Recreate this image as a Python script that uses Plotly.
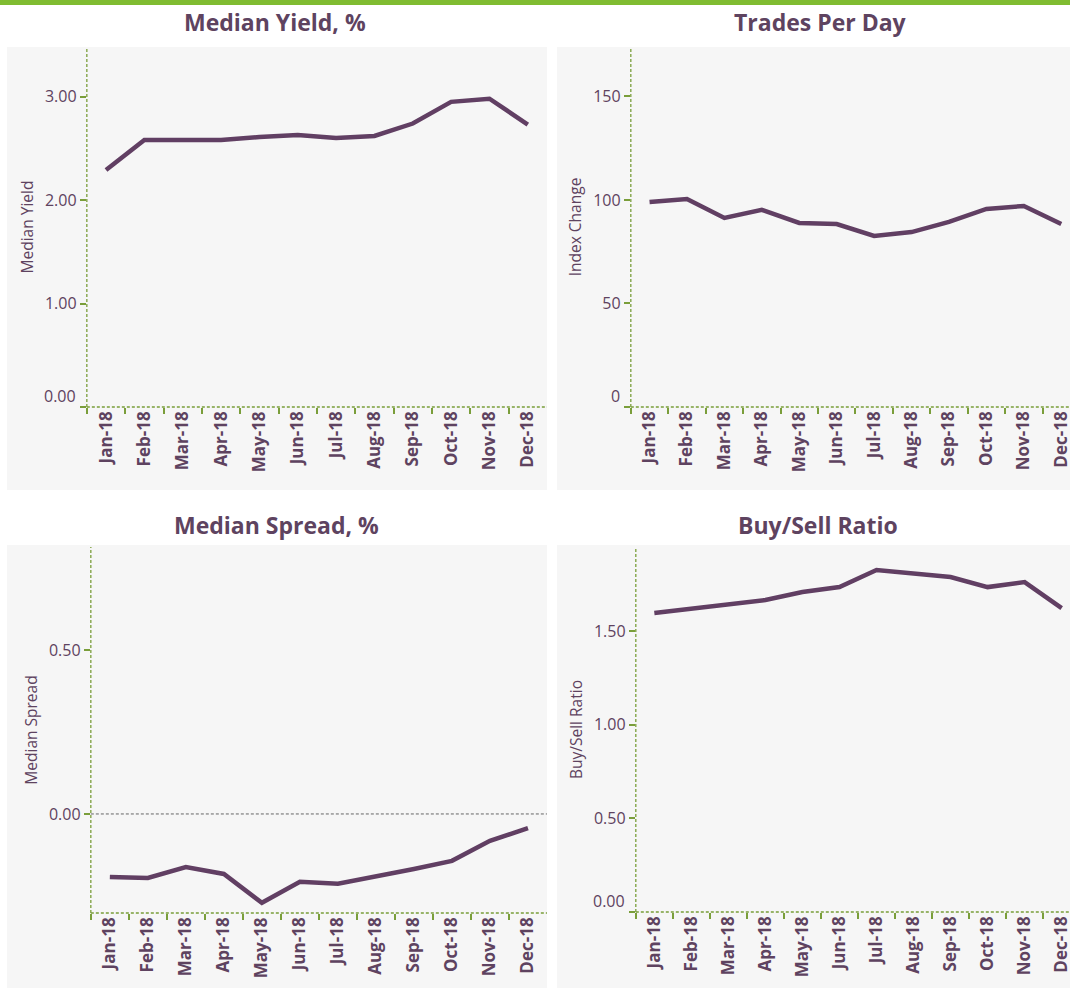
import plotly.graph_objects as go

months = ["Jan-18", "Feb-18", "Mar-18", "Apr-18", "May-18", "Jun-18",
          "Jul-18", "Aug-18", "Sep-18", "Oct-18", "Nov-18", "Dec-18"]
median_yield = [2.29, 2.58, 2.58, 2.58, 2.61, 2.63, 2.60, 2.62, 2.74, 2.95, 2.98, 2.73]
trades_per_day = [99.0, 100.5, 91.3, 95.2, 88.9, 88.4, 82.6, 84.5, 89.4, 95.7, 97.1, 88.4]
median_spread = [-0.192, -0.195, -0.162, -0.183, -0.271, -0.207, -0.213, -0.192, -0.168, -0.143, -0.082, -0.043]
buy_sell = [1.596, 1.617, 1.638, 1.665, 1.708, 1.734, 1.825, 1.809, 1.788, 1.734, 1.761, 1.622]

titles = ["Median Yield, %", "Trades Per Day", "Median Spread, %", "Buy/Sell Ratio"]
ytitles = ["Median Yield", "Index Change", "Median Spread", "Buy/Sell Ratio"]
yticks = [[0, 1, 2, 3], [0, 50, 100, 150], [0, 0.5], [0, 0.5, 1.0, 1.5]]
yticktext = [["", "1.00", "2.00", "3.00"], ["", "50", "100", "150"],
             ["0.00", "0.50"], ["", "0.50", "1.00", "1.50"]]
bottom_labels = ["0.00", "0", None, "0.00"]

W, H = 1072, 990
PURPLE = "#613f63"
TXT = "#5e4360"
GREEN = "#7a9e3a"
GREY = "#f6f6f6"
FONT = "Open Sans"

def px(x):
    return x / W

def py(y):
    return 1 - y / H

# plot-area geometry (pixels)
areas = [(87, 548, 47, 407), (632, 1072, 47, 407), (91, 548, 547, 913), (637, 1072, 547, 912)]
boxes = [(7, 548, 47, 490), (558, 1072, 47, 490), (7, 548, 545, 988), (558, 1072, 545, 988)]
title_pos = [(276, 22), (822, 22), (277, 525), (820, 525)]
yranges = [[0, 3.48], [0, 173.9], [-0.302, 0.814], [0, 1.948]]
band_w = [(548 - 87) / 12, 37.5, (548 - 91) / 12, 37.1]
series = [median_yield, trades_per_day, median_spread, buy_sell]

fig = go.Figure()
shapes = []
annotations = []

# top green bar
shapes.append(dict(type="rect", xref="paper", yref="paper", x0=0, x1=1,
                   y0=py(5), y1=1, fillcolor="#80bc31", line_width=0, layer="below"))

for i in range(4):
    n = "" if i == 0 else str(i + 1)
    xa, ya = "x" + n, "y" + n
    x0, x1, y0, y1 = areas[i]
    bx0, bx1, by0, by1 = boxes[i]
    shapes.append(dict(type="rect", xref="paper", yref="paper", x0=px(bx0), x1=px(bx1),
                       y0=py(by1), y1=py(by0), fillcolor=GREY, line_width=0, layer="below"))
    fig.add_trace(go.Scatter(x=months, y=series[i], mode="lines",
                             line=dict(color=PURPLE, width=4.5),
                             xaxis=xa, yaxis=ya, showlegend=False, hoverinfo="x+y"))
    xmax = (x1 - x0) / band_w[i] - 0.5
    fig.layout["xaxis" + n] = dict(
        domain=[px(x0), px(x1)], anchor=ya, type="category",
        categoryorder="array", categoryarray=months,
        range=[-0.5, xmax], tickson="boundaries", ticks="outside", ticklen=6,
        tickcolor=GREEN, tickwidth=1.5, tickangle=-90, showgrid=False, zeroline=False,
        showline=False, tickfont=dict(family=FONT, size=17, color=TXT, weight="bold"),
        fixedrange=True)
    fig.layout["yaxis" + n] = dict(
        domain=[py(y1), py(y0)], anchor=xa, range=yranges[i],
        tickvals=yticks[i], ticktext=yticktext[i], ticks="outside", ticklen=6,
        tickcolor=GREEN, tickwidth=1.5, showgrid=False, zeroline=False, showline=False,
        tickfont=dict(family=FONT, size=16, color=TXT),
        title=dict(text=ytitles[i], font=dict(family=FONT, size=15.5, color=TXT), standoff=7),
        fixedrange=True)
    # dashed axis lines
    shapes.append(dict(type="line", xref=xa + " domain", yref=ya + " domain",
                       x0=0, x1=0, y0=0, y1=1, line=dict(color=GREEN, width=1.3, dash="3px,2px")))
    shapes.append(dict(type="line", xref=xa + " domain", yref=ya + " domain",
                       x0=0, x1=1, y0=0, y1=0, line=dict(color=GREEN, width=1.3, dash="3px,2px")))
    if bottom_labels[i] is not None:
        annotations.append(dict(text=bottom_labels[i], xref=xa + " domain", yref=ya,
                                x=0, y=0, xanchor="right", yanchor="middle", xshift=-9, yshift=11,
                                showarrow=False, font=dict(family=FONT, size=16, color=TXT)))
    tx, ty = title_pos[i]
    annotations.append(dict(text="<b>" + titles[i] + "</b>", xref="paper", yref="paper",
                            x=px(tx), y=py(ty), xanchor="center", yanchor="middle",
                            showarrow=False, font=dict(family=FONT, size=23, color=TXT)))

# zero reference line for the spread panel
shapes.append(dict(type="line", xref="x3 domain", yref="y3", x0=0, x1=1, y0=0, y1=0,
                   line=dict(color="#666666", width=1, dash="3px,2px")))

fig.update_layout(width=W, height=H, margin=dict(l=0, r=0, t=0, b=0),
                  paper_bgcolor="white", plot_bgcolor=GREY,
                  shapes=shapes, annotations=annotations)

fig.write_html("out.html", config={"displayModeBar": False},
               post_script="document.body.style.margin='0';document.body.style.overflow='hidden';")
